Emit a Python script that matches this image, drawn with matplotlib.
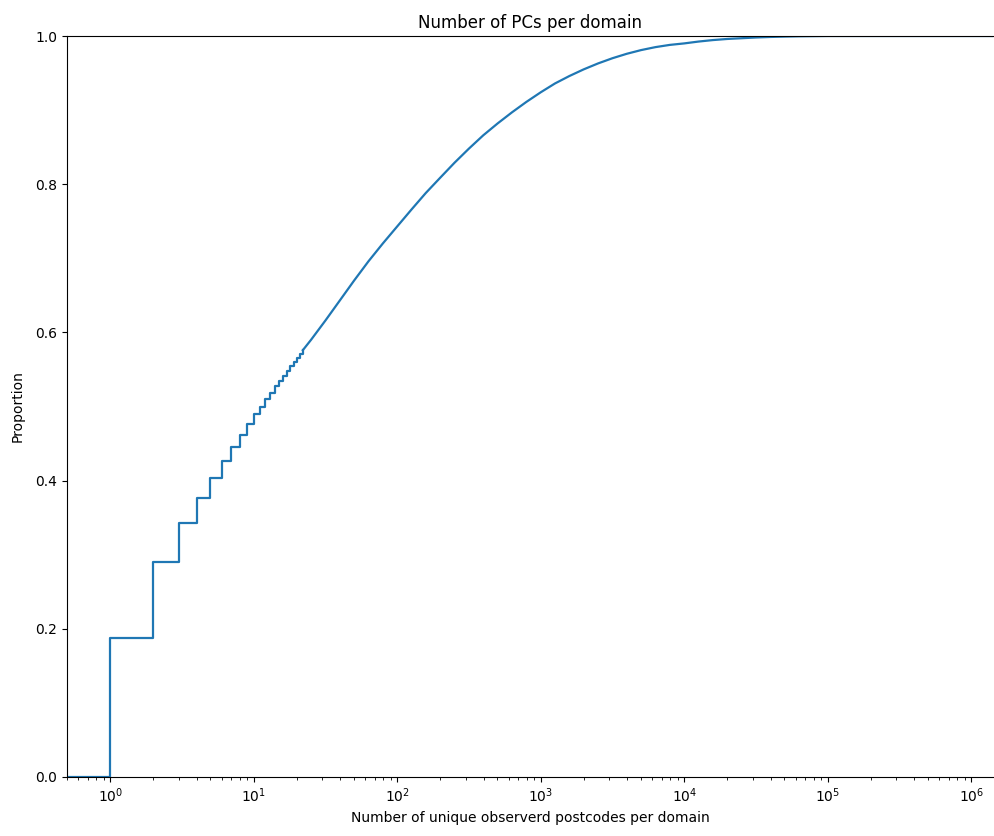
import matplotlib
matplotlib.use("Agg")
import matplotlib.pyplot as plt
from matplotlib.ticker import NullFormatter

# Step part of the ECDF (integer counts of unique postcodes)
step_counts = [0.5, 1, 2, 3, 4, 5, 6, 7, 8, 9, 10, 11, 12, 13, 14, 15, 16, 17, 18, 19, 20, 21, 22]
step_props = [0.0, 0.188, 0.290, 0.343, 0.377, 0.404, 0.427, 0.446, 0.462, 0.476, 0.490,
              0.500, 0.510, 0.518, 0.527, 0.534, 0.541, 0.548, 0.554, 0.560, 0.565, 0.571, 0.576]

# Dense (visually smooth) tail of the ECDF
tail_counts = [22, 25.1, 31.6, 39.8, 50.1, 63.1, 79.4, 100, 126, 158, 200, 251, 316, 398, 501,
               631, 794, 1000, 1259, 1585, 1995, 2512, 3162, 3981, 5012, 6310, 7943, 10000,
               12589, 15849, 19953, 25119, 31623, 39811, 50119, 63096, 79433, 100000, 1400000]
tail_props = [0.576, 0.590, 0.616, 0.643, 0.670, 0.696, 0.720, 0.743, 0.766, 0.788, 0.809,
              0.829, 0.848, 0.866, 0.882, 0.897, 0.911, 0.924, 0.936, 0.946, 0.955, 0.963,
              0.970, 0.976, 0.981, 0.985, 0.988, 0.990, 0.9925, 0.9945, 0.996, 0.997, 0.998,
              0.9987, 0.9992, 0.9996, 0.9998, 1.0, 1.0]

title = "Number of PCs per domain"
xlabel = "Number of unique observerd postcodes per domain"
ylabel = "Proportion"

fig = plt.figure(figsize=(9.94, 8.36), dpi=100)
ax = fig.add_axes([67/994, 1 - 777/836, 1 - 67/994, (777 - 36)/836])

color = "#1f77b4"
ax.step(step_counts, step_props, where="post", color=color, lw=1.6)
ax.plot(tail_counts, tail_props, color=color, lw=1.6)

ax.set_xscale("log")
ax.set_xlim(0.5, 10 ** 6.159)
ax.set_ylim(0, 1)
ax.set_yticks([0.0, 0.2, 0.4, 0.6, 0.8, 1.0])
ax.xaxis.set_minor_formatter(NullFormatter())
ax.spines["right"].set_visible(False)

ax.set_title(title, fontsize=12)
ax.set_xlabel(xlabel, fontsize=10)
ax.set_ylabel(ylabel, fontsize=10, labelpad=8)

fig.savefig("out.png", dpi=100)
